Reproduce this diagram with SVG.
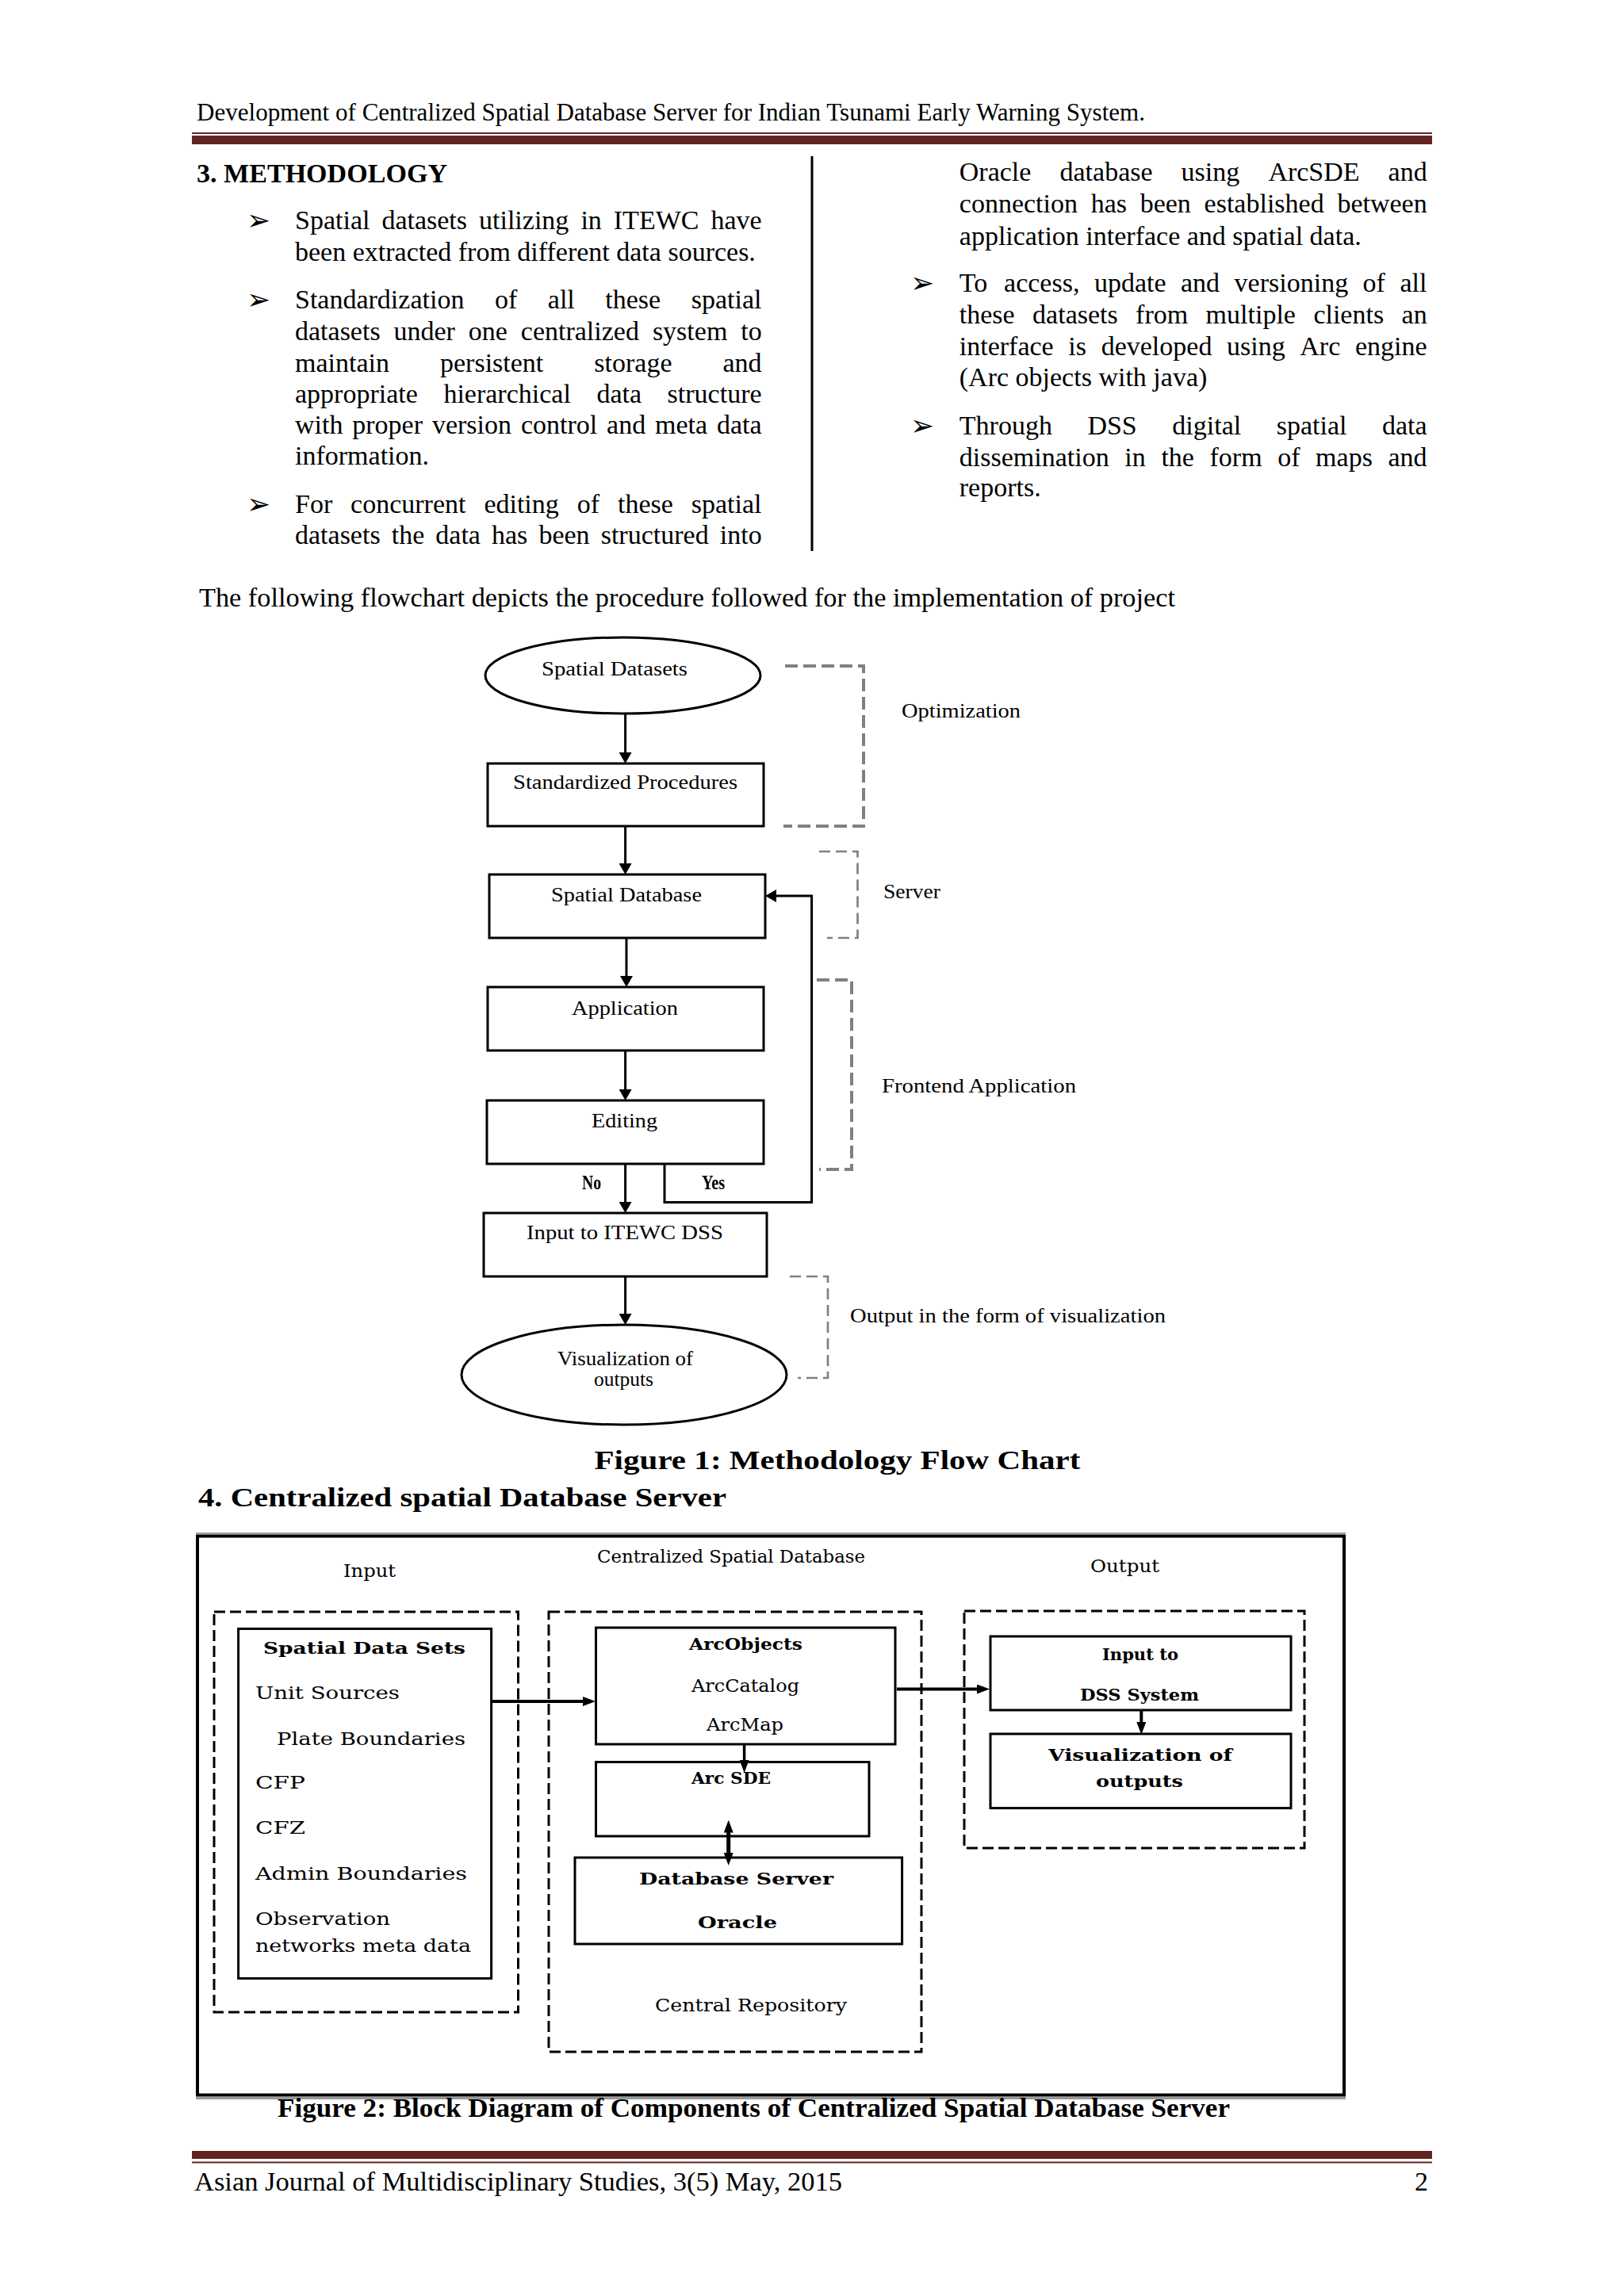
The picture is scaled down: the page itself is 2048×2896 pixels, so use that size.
<svg xmlns="http://www.w3.org/2000/svg" width="2048" height="2896" viewBox="0 0 2048 2896">
<style>
.body{font-family:"Liberation Serif","Times New Roman",serif;font-size:34px;fill:#000}
.hdr{font-family:"Liberation Serif","Times New Roman",serif;font-size:31px;fill:#000}
.bld{font-weight:bold}
.bul{font-family:"DejaVu Sans",sans-serif;font-size:36px;fill:#000}
.fl{font-family:"Liberation Serif","Times New Roman",serif;font-size:26px;fill:#000}
.f2{font-family:"DejaVu Serif",serif;font-size:22px;fill:#000}
.f2b{font-family:"DejaVu Serif",serif;font-size:21px;font-weight:bold;fill:#000}
.box{fill:#fff;stroke:#000;stroke-width:3}
.conn{fill:none;stroke:#000;stroke-width:3}
.gd{fill:none;stroke:#808080;stroke-width:4;stroke-dasharray:16 7}
.gd2{fill:none;stroke:#808080;stroke-width:2.7;stroke-dasharray:14 7}
.dash{fill:none;stroke:#000;stroke-width:3;stroke-dasharray:14 6}
.rule{fill:#622423}
</style>
<defs>
<marker id="fa" viewBox="0 0 14 16" markerWidth="14" markerHeight="16" refX="3" refY="8" orient="auto" markerUnits="userSpaceOnUse"><path d="M0,0 L14,8 L0,16 z" fill="#000"/></marker>
<marker id="ba" viewBox="0 0 16 12" markerWidth="16" markerHeight="12" refX="4" refY="6" orient="auto-start-reverse" markerUnits="userSpaceOnUse"><path d="M0,0 L16,6 L0,12 z" fill="#000"/></marker>
</defs>
<rect x="0" y="0" width="2048" height="2896" fill="#fff"/>

<g id="header">
<text class="hdr" x="248" y="152" textLength="1196" lengthAdjust="spacingAndGlyphs">Development of Centralized Spatial Database Server for Indian Tsunami Early Warning System.</text>
<rect class="rule" x="242" y="167" width="1564" height="2"/>
<rect class="rule" x="242" y="171" width="1564" height="11"/>
</g>

<g id="left-column">
<text class="body bld" x="248" y="230" textLength="316" lengthAdjust="spacingAndGlyphs">3. METHODOLOGY</text>
<text class="bul" x="311" y="290">➢</text>
<text class="bul" x="311" y="390">➢</text>
<text class="bul" x="311" y="648">➢</text>
<text class="body" y="289"><tspan x="372">Spatial</tspan><tspan x="481.4">datasets</tspan><tspan x="604">utilizing</tspan><tspan x="732.4">in</tspan><tspan x="773.8">ITEWC</tspan><tspan x="896.4">have</tspan></text>
<text class="body" x="372" y="329">been extracted from different data sources.</text>
<text class="body" y="389"><tspan x="372">Standardization</tspan><tspan x="623.9">of</tspan><tspan x="690.8">all</tspan><tspan x="763.3">these</tspan><tspan x="871.8">spatial</tspan></text>
<text class="body" y="429"><tspan x="372">datasets</tspan><tspan x="496.5">under</tspan><tspan x="590.8">one</tspan><tspan x="656.8">centralized</tspan><tspan x="822.9">system</tspan><tspan x="934.2">to</tspan></text>
<text class="body" y="469"><tspan x="372">maintain</tspan><tspan x="555">persistent</tspan><tspan x="749.3">storage</tspan><tspan x="911.5">and</tspan></text>
<text class="body" y="508"><tspan x="372">appropriate</tspan><tspan x="559.4">hierarchical</tspan><tspan x="752.5">data</tspan><tspan x="841.6">structure</tspan></text>
<text class="body" y="547"><tspan x="372">with</tspan><tspan x="444.3">proper</tspan><tspan x="544.9">version</tspan><tspan x="656.9">control</tspan><tspan x="765.1">and</tspan><tspan x="826">meta</tspan><tspan x="904">data</tspan></text>
<text class="body" x="372" y="586">information.</text>
<text class="body" y="647"><tspan x="372">For</tspan><tspan x="442.1">concurrent</tspan><tspan x="610.4">editing</tspan><tspan x="727.8">of</tspan><tspan x="779">these</tspan><tspan x="871.8">spatial</tspan></text>
<text class="body" y="686"><tspan x="372">datasets</tspan><tspan x="493.7">the</tspan><tspan x="549.3">data</tspan><tspan x="620">has</tspan><tspan x="679.4">been</tspan><tspan x="757.7">structured</tspan><tspan x="907.8">into</tspan></text>
</g>

<line x1="1024" y1="197" x2="1024" y2="695" stroke="#000" stroke-width="3"/>

<g id="right-column">
<text class="body" y="228"><tspan x="1209.8">Oracle</tspan><tspan x="1336.5">database</tspan><tspan x="1489.6">using</tspan><tspan x="1599.4">ArcSDE</tspan><tspan x="1750.6">and</tspan></text>
<text class="body" y="268"><tspan x="1209.8">connection</tspan><tspan x="1375.7">has</tspan><tspan x="1437.7">been</tspan><tspan x="1518.6">established</tspan><tspan x="1686.4">between</tspan></text>
<text class="body" x="1209.8" y="308.6">application interface and spatial data.</text>
<text class="bul" x="1148" y="369">➢</text>
<text class="bul" x="1148" y="549">➢</text>
<text class="body" y="368"><tspan x="1209.8">To</tspan><tspan x="1266.1">access,</tspan><tspan x="1379.9">update</tspan><tspan x="1489">and</tspan><tspan x="1556.6">versioning</tspan><tspan x="1718.6">of</tspan><tspan x="1765.4">all</tspan></text>
<text class="body" y="408"><tspan x="1209.8">these</tspan><tspan x="1302.1">datasets</tspan><tspan x="1432.1">from</tspan><tspan x="1520.6">multiple</tspan><tspan x="1656.4">clients</tspan><tspan x="1767.6">an</tspan></text>
<text class="body" y="448"><tspan x="1209.8">interface</tspan><tspan x="1347.3">is</tspan><tspan x="1388.7">developed</tspan><tspan x="1547">using</tspan><tspan x="1639.3">Arc</tspan><tspan x="1709">engine</tspan></text>
<text class="body" x="1209.8" y="486.5">(Arc objects with java)</text>
<text class="body" y="548"><tspan x="1209.8">Through</tspan><tspan x="1371.4">DSS</tspan><tspan x="1478.3">digital</tspan><tspan x="1609.7">spatial</tspan><tspan x="1743">data</tspan></text>
<text class="body" y="588"><tspan x="1209.8">dissemination</tspan><tspan x="1418.3">in</tspan><tspan x="1464.4">the</tspan><tspan x="1525.5">form</tspan><tspan x="1611.2">of</tspan><tspan x="1659.1">maps</tspan><tspan x="1750.5">and</tspan></text>
<text class="body" x="1209.8" y="626">reports.</text>
</g>

<text class="body" x="251" y="765" textLength="1231" lengthAdjust="spacingAndGlyphs">The following flowchart depicts the procedure followed for the implementation of project</text>

<g id="flowchart">
<g id="fc-connectors">
<path class="conn" d="M788.6 900 V952" marker-end="url(#fa)"/>
<path class="conn" d="M788.6 1042 V1092" marker-end="url(#fa)"/>
<path class="conn" d="M790 1183 V1234" marker-end="url(#fa)"/>
<path class="conn" d="M788.6 1325 V1377" marker-end="url(#fa)"/>
<path class="conn" d="M788.6 1468 V1519" marker-end="url(#fa)"/>
<path class="conn" d="M838 1468 V1516.5 H1023.6 V1130 H976" marker-end="url(#fa)"/>
<path class="conn" d="M788.6 1610 V1660" marker-end="url(#fa)"/>
<text class="fl bld" x="734" y="1500" font-size="19" textLength="24" lengthAdjust="spacingAndGlyphs">No</text>
<text class="fl bld" x="885" y="1500" font-size="19" textLength="29" lengthAdjust="spacingAndGlyphs">Yes</text>
</g>
<g id="fc-spatial-datasets">
<ellipse cx="785.5" cy="852" rx="173.5" ry="48" fill="#fff" stroke="#000" stroke-width="3"/>
<text class="fl" x="683" y="852" textLength="184" lengthAdjust="spacingAndGlyphs">Spatial Datasets</text>
</g>
<g id="fc-standardized">
<rect class="box" x="615" y="963" width="348" height="79"/>
<text class="fl" x="647" y="995" textLength="283" lengthAdjust="spacingAndGlyphs">Standardized Procedures</text>
</g>
<g id="fc-spatial-database">
<rect class="box" x="617" y="1103" width="348" height="80"/>
<text class="fl" x="695" y="1137" textLength="190" lengthAdjust="spacingAndGlyphs">Spatial Database</text>
</g>
<g id="fc-application">
<rect class="box" x="615" y="1245" width="348" height="80"/>
<text class="fl" x="721" y="1280" textLength="134" lengthAdjust="spacingAndGlyphs">Application</text>
</g>
<g id="fc-editing">
<rect class="box" x="614" y="1388" width="349" height="80"/>
<text class="fl" x="746" y="1422" textLength="83" lengthAdjust="spacingAndGlyphs">Editing</text>
</g>
<g id="fc-input">
<rect class="box" x="610" y="1530" width="357" height="80"/>
<text class="fl" x="664" y="1563" textLength="248" lengthAdjust="spacingAndGlyphs">Input to ITEWC DSS</text>
</g>
<g id="fc-visualization">
<ellipse cx="787" cy="1734" rx="205" ry="63" fill="#fff" stroke="#000" stroke-width="3"/>
<text class="fl" x="703" y="1722" font-size="24" textLength="171" lengthAdjust="spacingAndGlyphs">Visualization of</text>
<text class="fl" x="749" y="1748" font-size="24" textLength="75" lengthAdjust="spacingAndGlyphs">outputs</text>
</g>
<g id="fc-brackets">
<path class="gd" d="M990 840 H1089 V1042 H988"/>
<text class="fl" x="1137" y="905" textLength="150" lengthAdjust="spacingAndGlyphs">Optimization</text>
<path class="gd2" d="M1033 1074 H1081.5 V1183 H1043"/>
<text class="fl" x="1114" y="1133" textLength="72" lengthAdjust="spacingAndGlyphs">Server</text>
<path class="gd" d="M1030 1236 H1074 V1475 H1033"/>
<text class="fl" x="1112" y="1378" textLength="245" lengthAdjust="spacingAndGlyphs">Frontend Application</text>
<path class="gd2" d="M996 1610 H1044 V1738 H1006"/>
<text class="fl" x="1072" y="1668" textLength="398" lengthAdjust="spacingAndGlyphs">Output in the form of visualization</text>
</g>
</g>

<text class="body bld" x="749.5" y="1853" font-size="38" textLength="613" lengthAdjust="spacingAndGlyphs">Figure 1: Methodology Flow Chart</text>
<text class="body bld" x="250" y="1900" font-size="40" textLength="666" lengthAdjust="spacingAndGlyphs">4. Centralized spatial Database Server</text>

<g id="figure2">
<g id="f2-frame">
<line x1="247" y1="1934" x2="1697" y2="1934" stroke="#9a9a9a" stroke-width="2"/>
<line x1="247" y1="2646.5" x2="1697" y2="2646.5" stroke="#9a9a9a" stroke-width="3"/>
<rect x="249" y="1937.5" width="1446" height="705" fill="none" stroke="#000" stroke-width="4"/>
<text class="f2" x="433" y="1989" textLength="66" lengthAdjust="spacingAndGlyphs">Input</text>
<text class="f2" x="753" y="1971" textLength="338" lengthAdjust="spacingAndGlyphs">Centralized Spatial Database</text>
<text class="f2" x="1375" y="1983" textLength="87" lengthAdjust="spacingAndGlyphs">Output</text>
</g>
<g id="f2-input">
<rect class="dash" x="270" y="2033" width="383.5" height="505"/>
<rect class="box" x="300.6" y="2054.4" width="319" height="441"/>
<text class="f2b" x="332" y="2086" textLength="255" lengthAdjust="spacingAndGlyphs">Spatial Data Sets</text>
<text class="f2" x="322" y="2143" textLength="182" lengthAdjust="spacingAndGlyphs">Unit Sources</text>
<text class="f2" x="349" y="2201" textLength="238" lengthAdjust="spacingAndGlyphs">Plate Boundaries</text>
<text class="f2" x="322" y="2256" textLength="63" lengthAdjust="spacingAndGlyphs">CFP</text>
<text class="f2" x="322" y="2313" textLength="63" lengthAdjust="spacingAndGlyphs">CFZ</text>
<text class="f2" x="322" y="2371" textLength="267" lengthAdjust="spacingAndGlyphs">Admin Boundaries</text>
<text class="f2" x="322" y="2428" textLength="170" lengthAdjust="spacingAndGlyphs">Observation</text>
<text class="f2" x="322" y="2462" textLength="272" lengthAdjust="spacingAndGlyphs">networks meta data</text>
</g>
<g id="f2-central">
<rect class="dash" x="692" y="2033" width="470" height="555"/>
<rect class="box" x="751.5" y="2053" width="377.5" height="147" stroke-width="3.5"/>
<text class="f2b" x="869" y="2081" textLength="143" lengthAdjust="spacingAndGlyphs">ArcObjects</text>
<text class="f2" x="872" y="2133.5" textLength="136" lengthAdjust="spacingAndGlyphs">ArcCatalog</text>
<text class="f2" x="891" y="2183" textLength="97" lengthAdjust="spacingAndGlyphs">ArcMap</text>
<rect class="box" x="751.5" y="2222.5" width="344.5" height="93.5" stroke-width="3.5"/>
<text class="f2b" x="872" y="2250" textLength="100" lengthAdjust="spacingAndGlyphs">Arc SDE</text>
<rect class="box" x="725" y="2343" width="412.6" height="109" stroke-width="3.5"/>
<text class="f2b" x="806" y="2377" textLength="245" lengthAdjust="spacingAndGlyphs">Database Server</text>
<text class="f2b" x="880" y="2432" textLength="100" lengthAdjust="spacingAndGlyphs">Oracle</text>
<text class="f2" x="826" y="2537" textLength="242" lengthAdjust="spacingAndGlyphs">Central Repository</text>
</g>
<g id="f2-output">
<rect class="dash" x="1216" y="2032" width="429" height="299"/>
<rect class="box" x="1249" y="2064" width="379" height="93" stroke-width="3.5"/>
<text class="f2b" x="1390" y="2094" textLength="96" lengthAdjust="spacingAndGlyphs">Input to</text>
<text class="f2b" x="1362" y="2145" textLength="150" lengthAdjust="spacingAndGlyphs">DSS System</text>
<rect class="box" x="1249" y="2187" width="379" height="93.6" stroke-width="3.5"/>
<text class="f2b" x="1322" y="2220.5" textLength="232" lengthAdjust="spacingAndGlyphs">Visualization of</text>
<text class="f2b" x="1382" y="2254" textLength="110" lengthAdjust="spacingAndGlyphs">outputs</text>
</g>
<g id="f2-connectors">
<path d="M619.5 2146 H739" fill="none" stroke="#000" stroke-width="4" marker-end="url(#ba)"/>
<path d="M1131 2130.5 H1236" fill="none" stroke="#000" stroke-width="4" marker-end="url(#ba)"/>
<path d="M938.6 2200 V2224" fill="none" stroke="#000" stroke-width="3.5" marker-end="url(#ba)"/>
<path d="M918.7 2307.6 V2341" fill="none" stroke="#000" stroke-width="5" marker-start="url(#ba)" marker-end="url(#ba)"/>
<path d="M1439.3 2157 V2176" fill="none" stroke="#000" stroke-width="4" marker-end="url(#ba)"/>
</g>
</g>

<text class="body bld" x="350" y="2670" font-size="30" textLength="1201" lengthAdjust="spacingAndGlyphs">Figure 2: Block Diagram of Components of Centralized Spatial Database Server</text>

<g id="footer">
<rect class="rule" x="242" y="2713" width="1564" height="10"/>
<rect class="rule" x="242" y="2726.5" width="1564" height="2"/>
<text class="body" x="245" y="2763" textLength="817" lengthAdjust="spacingAndGlyphs">Asian Journal of Multidisciplinary Studies, 3(5) May, 2015</text>
<text class="body" x="1801" y="2763" text-anchor="end">2</text>
</g>
</svg>
